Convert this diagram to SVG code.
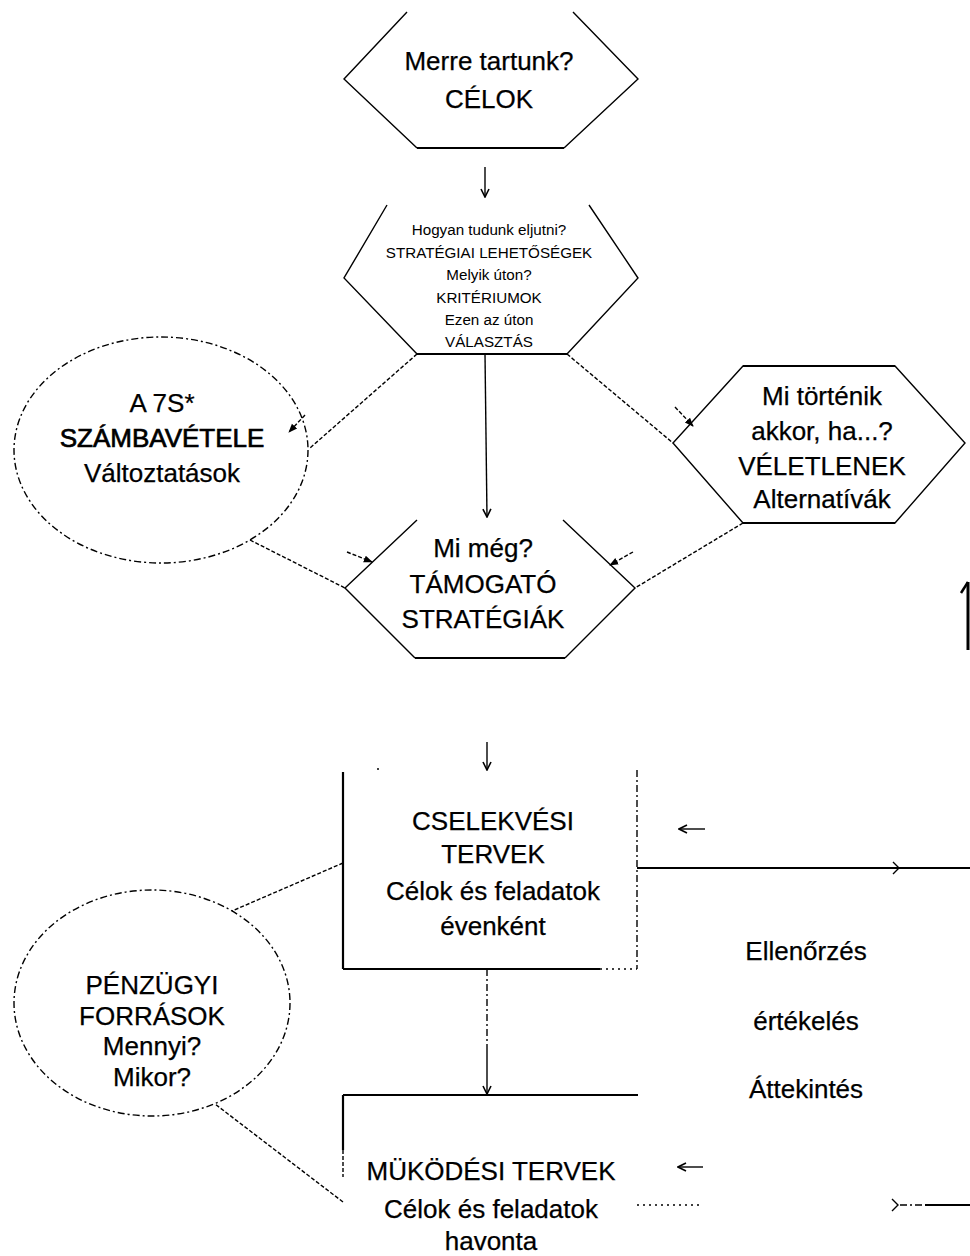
<svg xmlns="http://www.w3.org/2000/svg" width="970" height="1256" viewBox="0 0 970 1256">
  <style>
    text { font-family: "Liberation Sans", Arial, sans-serif; fill: #000; text-anchor: middle; }
    .big { font-size: 26px; stroke: #000; stroke-width: 0.25; }
    .small { font-size: 15.2px; }
    .edge { fill: none; stroke: #000; stroke-width: 1.4; }
    .thick { fill: none; stroke: #000; stroke-width: 2.2; }
    .dash { fill: none; stroke: #000; stroke-width: 1.4; stroke-dasharray: 4 2; }
    .dashdot { fill: none; stroke: #000; stroke-width: 1.4; stroke-dasharray: 7 3 2 3; }
    .dotted { fill: none; stroke: #000; stroke-width: 1.4; stroke-dasharray: 2 4; }
  </style>
  <defs>
    <marker id="open" viewBox="0 0 10 10" refX="9" refY="5" markerWidth="10" markerHeight="10" orient="auto" markerUnits="userSpaceOnUse">
      <path d="M1,1 L9,5 L1,9" fill="none" stroke="#000" stroke-width="1.6"/>
    </marker>
    <marker id="filled" viewBox="0 0 10 10" refX="9" refY="5" markerWidth="9" markerHeight="9" orient="auto" markerUnits="userSpaceOnUse">
      <path d="M0,1 L10,5 L0,9 Z" fill="#000"/>
    </marker>
  </defs>
  <rect width="970" height="1256" fill="#fff"/>

  <!-- goal hexagon -->
  <g id="celok">
    <polyline class="edge" points="407,12 344,79 417,148"/>
    <polyline class="edge" points="573,12 638,79 564,148"/>
    <line class="thick" x1="417" y1="148" x2="564" y2="148"/>
    <text class="big" x="489" y="70">Merre tartunk?</text>
    <text class="big" x="489" y="108">CÉLOK</text>
  </g>

  <!-- strategy options hexagon -->
  <g id="strategiai-lehetosegek">
    <polyline class="edge" points="387,205 344,278 417,354"/>
    <polyline class="edge" points="589,205 638,278 567,354"/>
    <line class="thick" x1="417" y1="354" x2="567" y2="354"/>
    <text class="small" x="489" y="235">Hogyan tudunk eljutni?</text>
    <text class="small" x="489" y="258">STRATÉGIAI LEHETŐSÉGEK</text>
    <text class="small" x="489" y="280">Melyik úton?</text>
    <text class="small" x="489" y="303">KRITÉRIUMOK</text>
    <text class="small" x="489" y="325">Ezen az úton</text>
    <text class="small" x="489" y="347">VÁLASZTÁS</text>
  </g>

  <!-- 7S ellipse -->
  <g id="hetS">
    <ellipse class="dashdot" cx="161" cy="450" rx="147" ry="113"/>
    <text class="big" x="162" y="412">A 7S*</text>
    <text class="big" x="162" y="447" style="stroke-width:0.7">SZÁMBAVÉTELE</text>
    <text class="big" x="162" y="482">Változtatások</text>
  </g>

  <!-- contingencies hexagon -->
  <g id="veletlenek">
    <polygon class="edge" points="743,366 895,366 965,443 895,523 743,523 673,443"/>
    <line class="thick" x1="743" y1="366" x2="895" y2="366"/>
    <line class="thick" x1="743" y1="523" x2="895" y2="523"/>
    <text class="big" x="822" y="405">Mi történik</text>
    <text class="big" x="822" y="440">akkor, ha...?</text>
    <text class="big" x="822" y="475">VÉLETLENEK</text>
    <text class="big" x="822" y="508">Alternatívák</text>
  </g>

  <!-- supporting strategies hexagon -->
  <g id="tamogato">
    <polyline class="edge" points="417,520 345,588 415,658"/>
    <polyline class="edge" points="563,520 635,588 565,658"/>
    <line class="thick" x1="415" y1="658" x2="565" y2="658"/>
    <text class="big" x="483" y="557">Mi még?</text>
    <text class="big" x="483" y="593">TÁMOGATÓ</text>
    <text class="big" x="483" y="628">STRATÉGIÁK</text>
  </g>

  <!-- yearly action plans -->
  <g id="cselekvesi">
    <line class="thick" x1="343" y1="772" x2="343" y2="969"/>
    <line class="thick" x1="343" y1="969" x2="600" y2="969"/>
    <line class="dotted" x1="600" y1="969" x2="637" y2="969"/>
    <line class="dashdot" x1="637" y1="770" x2="637" y2="969"/>
    <circle cx="378" cy="769" r="1" fill="#000"/>
    <text class="big" x="493" y="830">CSELEKVÉSI</text>
    <text class="big" x="493" y="863">TERVEK</text>
    <text class="big" x="493" y="900">Célok és feladatok</text>
    <text class="big" x="493" y="935">évenként</text>
  </g>

  <!-- financial resources ellipse -->
  <g id="penzugyi">
    <ellipse class="dashdot" cx="152" cy="1003" rx="138" ry="113"/>
    <text class="big" x="152" y="994">PÉNZÜGYI</text>
    <text class="big" x="152" y="1025">FORRÁSOK</text>
    <text class="big" x="152" y="1055">Mennyi?</text>
    <text class="big" x="152" y="1086">Mikor?</text>
  </g>

  <!-- monthly operating plans -->
  <g id="mukodesi">
    <line class="thick" x1="343" y1="1095" x2="638" y2="1095"/>
    <line class="thick" x1="343" y1="1095" x2="343" y2="1150"/>
    <line class="dash" x1="343" y1="1150" x2="343" y2="1177"/>
    <text class="big" x="491" y="1180">MÜKÖDÉSI TERVEK</text>
    <text class="big" x="491" y="1218">Célok és feladatok</text>
    <text class="big" x="491" y="1250">havonta</text>
  </g>

  <!-- control loop labels -->
  <g id="ellenorzes">
    <text class="big" x="806" y="960">Ellenőrzés</text>
    <text class="big" x="806" y="1030">értékelés</text>
    <text class="big" x="806" y="1098">Áttekintés</text>
  </g>

  <!-- connectors -->
  <g id="connectors">
    <line class="edge" x1="485" y1="167" x2="485" y2="197" marker-end="url(#open)"/>
    <line class="edge" x1="485" y1="354" x2="487" y2="517" marker-end="url(#open)"/>
    <line class="dash" x1="417" y1="354" x2="310" y2="448"/>
    <line class="dash" x1="567" y1="354" x2="673" y2="443"/>
    <line class="dash" x1="305" y1="415" x2="289" y2="432" marker-end="url(#filled)"/>
    <line class="dash" x1="675" y1="407" x2="693" y2="426" marker-end="url(#filled)"/>
    <line class="dash" x1="250" y1="540" x2="345" y2="588"/>
    <line class="dash" x1="743" y1="523" x2="635" y2="588"/>
    <line class="dash" x1="347" y1="552" x2="372" y2="562" marker-end="url(#filled)"/>
    <line class="dash" x1="633" y1="552" x2="610" y2="565" marker-end="url(#filled)"/>

    <!-- feedback loop on the right edge -->
    <line x1="968" y1="582" x2="968" y2="650" stroke="#000" stroke-width="3"/>
    <path d="M968,582 L961,593" stroke="#000" stroke-width="2.5" fill="none"/>

    <line class="edge" x1="487" y1="742" x2="487" y2="770" marker-end="url(#open)"/>
    <line class="thick" x1="637" y1="868" x2="970" y2="868"/>
    <path d="M893,862 L899,868 L893,874" class="edge"/>
    <line class="edge" x1="705" y1="829" x2="679" y2="829" marker-end="url(#open)"/>
    <line class="dash" x1="343" y1="863" x2="232" y2="911"/>

    <line class="dashdot" x1="487" y1="969" x2="487" y2="1050"/>
    <line class="edge" x1="487" y1="1050" x2="487" y2="1094" marker-end="url(#open)"/>
    <line class="dash" x1="343" y1="1202" x2="215" y2="1104"/>
    <line class="edge" x1="703" y1="1167" x2="678" y2="1167" marker-end="url(#open)"/>
    <line class="dotted" x1="637" y1="1205" x2="702" y2="1205"/>
    <path d="M892,1199 L898,1205 L892,1211" class="edge"/>
    <line class="dashdot" x1="900" y1="1205" x2="925" y2="1205"/>
    <line class="thick" x1="925" y1="1205" x2="970" y2="1205"/>
  </g>
</svg>
